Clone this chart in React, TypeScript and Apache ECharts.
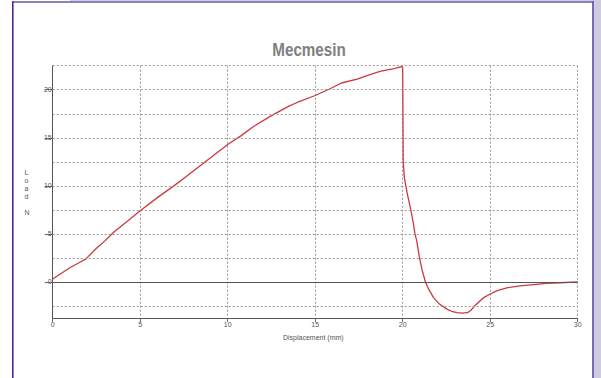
import React, { useEffect, useRef } from "react";
import * as echarts from "echarts";

const displacement = [
  0, 0.5, 1.0, 1.5, 1.9, 2.5, 3.0, 3.5, 4.25, 5.0, 6.0, 7.0, 7.5, 8.5, 9.5, 10.0,
  10.75, 11.5, 12.5, 13.5, 14.0, 15.0, 15.85, 16.5, 17.4, 18.0, 18.7, 19.5, 19.95,
  20.0, 20.03, 20.1, 20.25, 20.45, 20.6, 20.7, 20.8, 20.95, 21.1, 21.3, 21.5, 21.75,
  22.1, 22.5, 22.8, 23.1, 23.4, 23.7, 23.9, 24.1, 24.4, 24.65, 25.0, 25.4, 26.0, 26.7, 27.5,
  28.2, 29.0, 30.0,
];
const load = [
  0.3, 0.9, 1.5, 2.0, 2.4, 3.5, 4.3, 5.2, 6.3, 7.4, 8.8, 10.1, 10.8, 12.2, 13.6, 14.3,
  15.2, 16.2, 17.3, 18.3, 18.7, 19.4, 20.1, 20.7, 21.1, 21.5, 21.9, 22.2, 22.4,
  22.3, 12.5, 10.8, 9.3, 7.6, 6.2, 5.0, 4.3, 2.6, 1.3, 0.0, -0.8, -1.6,
  -2.3, -2.8, -3.05, -3.2, -3.25, -3.2, -2.95, -2.5, -2.0, -1.6, -1.25, -0.9, -0.6, -0.4, -0.28,
  -0.15, -0.08, 0.0,
];

const xTickLabels = [0, 5, 10, 15, 20, 25, 30];
const yTickLabels = [0, 5, 10, 15, 20];
const yGridValues = [-2.5, 2.5, 5, 7.5, 10, 12.5, 15, 17.5, 20, 22.5];

export default function App() {
  const ref = useRef<HTMLDivElement>(null);
  useEffect(() => {
    if (!ref.current) return;
    const chart = echarts.init(ref.current, null, { renderer: "svg" });
    const data = displacement.map((d, i) => [d, load[i]]);
    const gridStyle = { color: "#999999", width: 1, type: [2, 2] as any };
    const labelFont = { fontFamily: "Liberation Sans, Arial, sans-serif", fontSize: 7, color: "#555" };
    chart.setOption({
      animation: false,
      backgroundColor: "#ffffff",
      grid: { left: 52.7, right: 23.3, top: 65.7, bottom: 60, containLabel: false },
      xAxis: {
        type: "value",
        min: 0,
        max: 30,
        interval: 2.5,
        axisLine: { show: true, onZero: false, lineStyle: { color: "#555", width: 1 } },
        axisTick: { show: true, length: 4, customValues: xTickLabels, lineStyle: { color: "#666" } },
        axisLabel: { ...labelFont, margin: 3, customValues: xTickLabels },
        splitLine: { show: true, lineStyle: gridStyle },
      },
      yAxis: {
        type: "value",
        min: -3.75,
        max: 22.5,
        axisLine: { show: true, onZero: false, lineStyle: { color: "#555", width: 1 } },
        axisTick: { show: true, length: 8, customValues: yTickLabels, lineStyle: { color: "#666" } },
        axisLabel: { ...labelFont, margin: 1, customValues: yTickLabels },
        splitLine: { show: false },
      },
      series: [
        {
          type: "line",
          data: [],
          z: 1,
          silent: true,
          markLine: {
            silent: true,
            symbol: "none",
            animation: false,
            label: { show: false },
            lineStyle: gridStyle,
            data: [
              ...yGridValues.map((v) => ({ yAxis: v })),
              { yAxis: 0, lineStyle: { color: "#555", width: 1, type: "solid" } },
            ],
          },
        },
        {
          type: "line",
          z: 3,
          data,
          showSymbol: false,
          smooth: false,
          lineStyle: { color: "#c93a3e", width: 1.3, join: "round" },
        },
      ],
      graphic: [
        { type: "rect", shape: { x: 594, y: 0, width: 7, height: 378 }, style: { fill: "#cfcbe3" } },
        { type: "rect", shape: { x: 70, y: 0, width: 531, height: 1.2 }, style: { fill: "#cfcbe3" } },
        { type: "rect", shape: { x: 12, y: 1.2, width: 581.5, height: 1.6 }, style: { fill: "#6a57a6" } },
        { type: "rect", shape: { x: 12, y: 1.2, width: 1.6, height: 377 }, style: { fill: "#4a2a8c" } },
        { type: "rect", shape: { x: 592.2, y: 1.2, width: 1.6, height: 377 }, style: { fill: "#5a45a0" } },
        {
          type: "text",
          x: 309,
          y: 49,
          scaleX: 0.8,
          style: {
            text: "Mecmesin",
            font: "bold 19px 'Liberation Sans', Arial, sans-serif",
            fill: "#808080",
            align: "center",
            verticalAlign: "middle",
          },
        },
        {
          type: "text",
          left: 24.5,
          top: 168,
          style: {
            text: "L\no\na\nd\n\nN",
            font: "7px 'Liberation Sans', Arial, sans-serif",
            lineHeight: 8,
            fill: "#555",
            align: "center",
          },
        },
        {
          type: "text",
          left: 283,
          top: 334,
          style: {
            text: "Displacement (mm)",
            font: "7px 'Liberation Sans', Arial, sans-serif",
            fill: "#555",
          },
        },
      ],
    });
    return () => chart.dispose();
  }, []);
  return (
    <div style={{ position: "fixed", left: 0, top: 0, width: 601, height: 378, background: "#fff" }}>
      <div ref={ref} style={{ width: 601, height: 378 }} />
    </div>
  );
}
